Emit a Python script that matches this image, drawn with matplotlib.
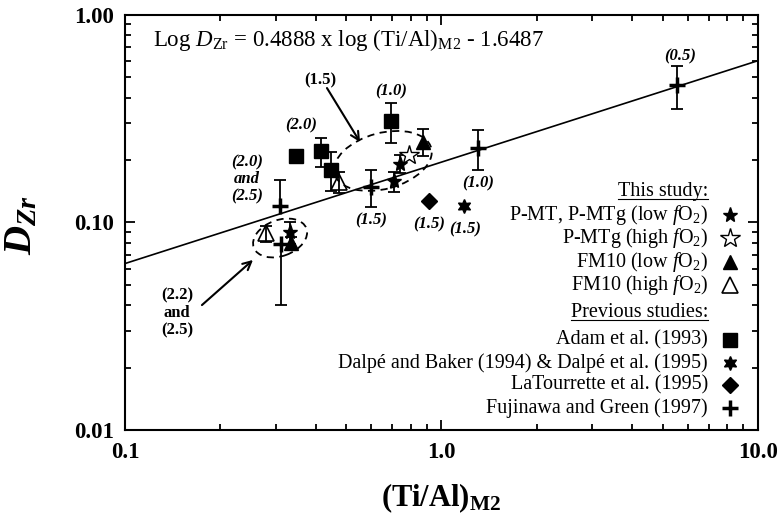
import numpy as np
import matplotlib
matplotlib.use('Agg')
import matplotlib.pyplot as plt
import matplotlib.transforms as mtransforms
from matplotlib.patches import Ellipse
from matplotlib.ticker import FixedLocator, FixedFormatter, LogLocator, NullFormatter

plt.rcParams['font.family'] = ['Liberation Serif', 'DejaVu Serif']
plt.rcParams['mathtext.fontset'] = 'custom'
plt.rcParams['mathtext.rm'] = 'Liberation Serif'
plt.rcParams['mathtext.it'] = 'Liberation Serif:italic'
plt.rcParams['mathtext.bf'] = 'Liberation Serif:bold'
plt.rcParams['mathtext.bfit'] = 'Liberation Serif:italic:bold'

# --- this study ---
pmt_x = [0.332, 0.71, 0.74]
pmt_y = [0.090, 0.158, 0.192]
pmt_err = [0.011, 0.018, 0.019]
pmtg_x = [0.788]
pmtg_y = [0.211]
fm10_low_x = [0.334, 0.876]
fm10_low_y = [0.0794, 0.245]
fm10_low_err = [0.006, 0.037]
fm10_high_x = [0.278, 0.475]
fm10_high_y = [0.0887, 0.157]
fm10_high_err = [0.008, 0.019]

# --- previous studies ---
adam_x = [0.346, 0.415, 0.448, 0.693]
adam_y = [0.209, 0.221, 0.180, 0.309]
adam_err = [0.0, 0.035, 0.038, 0.068]
dalpe_x = [1.18]
dalpe_y = [0.120]
latour_x = [0.915]
latour_y = [0.127]
fuji_x = [0.308, 0.310, 0.600, 1.30, 5.54]
fuji_y = [0.120, 0.079, 0.149, 0.228, 0.460]
fuji_err_lo = [0.0, 0.039, 0.030, 0.048, 0.109]
fuji_err_hi = [0.040, 0.0, 0.030, 0.050, 0.108]

# regression line (log10 units)
slope = 0.4888
intercept = -0.709

# pressure labels (GPa)
p_labels = ['(1.0)', '(2.0)', '(2.0)\nand\n(2.5)', '(1.5)', '(1.5)', '(1.5)', '(1.0)', '(0.5)']
p_x = [0.693, 0.359, 0.2434, 0.5975, 0.913, 1.186, 1.307, 5.67]
p_y = [0.427, 0.295, 0.1615, 0.102, 0.0983, 0.093, 0.1545, 0.63]

fig = plt.figure(figsize=(7.79, 5.19), dpi=100)
ax = fig.add_axes([0.1605, 0.1715, 0.8125, 0.7996])
ax.set_xscale('log')
ax.set_yscale('log')
ax.set_xlim(0.1, 10)
ax.set_ylim(0.01, 1)

# fit line
xs = np.logspace(-1, 1, 50)
ax.plot(xs, 10 ** (intercept + slope * np.log10(xs)), color='k', lw=1.2, zorder=2)

eb = dict(fmt='none', ecolor='k', elinewidth=1.3, capsize=4, capthick=1.3, zorder=3)
ax.errorbar(pmt_x, pmt_y, yerr=pmt_err, **eb)
ax.errorbar(fm10_low_x, fm10_low_y, yerr=fm10_low_err, **eb)
ax.errorbar(fm10_high_x, fm10_high_y, yerr=fm10_high_err, **eb)
ax.errorbar(adam_x, adam_y, yerr=adam_err, **eb)
ax.errorbar(fuji_x, fuji_y, yerr=[fuji_err_lo, fuji_err_hi], **eb)

styles = {
    'pmt': dict(marker='*', ms=11, mfc='k', mec='k', ls='none'),
    'pmtg': dict(marker='*', ms=15, mfc='white', mec='k', mew=1.0, ls='none'),
    'fm_low': dict(marker='^', ms=10, mfc='k', mec='k', ls='none'),
    'fm_high': dict(marker='^', ms=11, mfc='none', mec='k', mew=1.2, ls='none'),
    'adam': dict(marker='s', ms=10, mfc='k', mec='k', ls='none'),
    'dalpe': dict(marker=(6, 1, 0), ms=10, mfc='k', mec='k', ls='none'),
    'latour': dict(marker='D', ms=8, mfc='k', mec='k', ls='none'),
    'fuji': dict(marker='+', ms=12, mec='k', mew=2.5, ls='none'),
}
ax.plot(adam_x, adam_y, zorder=4, **styles['adam'])
ax.plot(fuji_x, fuji_y, zorder=4, **styles['fuji'])
ax.plot(dalpe_x, dalpe_y, zorder=4, **styles['dalpe'])
ax.plot(latour_x, latour_y, zorder=4, **styles['latour'])
ax.plot(fm10_high_x, fm10_high_y, zorder=4, **styles['fm_high'])
ax.plot(fm10_low_x, fm10_low_y, zorder=4, **styles['fm_low'])
ax.plot(pmtg_x, pmtg_y, zorder=5, **styles['pmtg'])
ax.plot(pmt_x, pmt_y, zorder=5, **styles['pmt'])

# pressure labels
for t, x, y in zip(p_labels, p_x, p_y):
    ax.text(x, y, t, ha='center', va='center', fontsize=12, fontweight='bold',
            fontstyle='italic', linespacing=1.1)

# dashed ellipses (sizes in inches)
def ring(xc, yc, w, h, ang):
    tr = fig.dpi_scale_trans + mtransforms.ScaledTranslation(xc, yc, ax.transData)
    ax.add_patch(Ellipse((0, 0), w, h, angle=ang, transform=tr, fill=False,
                         ls=(0, (4, 3)), lw=1.3, ec='k', zorder=3))

ring(0.653, 0.198, 1.0, 0.56, 15)
ring(0.309, 0.0842, 0.56, 0.36, 20)

arr = dict(arrowstyle='->, head_length=0.6, head_width=0.3', lw=1.5, color='k',
           shrinkA=0, shrinkB=0)
ax.annotate('', xy=(0.553, 0.244), xytext=(0.4346, 0.4447), arrowprops=arr)
ax.text(0.413, 0.486, '(1.5)', ha='center', va='center', fontsize=12, fontweight='bold')
ax.annotate('', xy=(0.2537, 0.066), xytext=(0.175, 0.040), arrowprops=arr)
ax.text(0.146, 0.0366, '(2.2)\nand\n(2.5)', ha='center', va='center', fontsize=12,
        fontweight='bold', linespacing=1.1)

ax.text(0.044, 0.94, r'Log $\mathit{D}_{\mathrm{Zr}}$ = 0.4888 x log (Ti/Al)$_{\mathrm{M2}}$ - 1.6487',
        transform=ax.transAxes, ha='left', va='center', fontsize=16.5)

# axes styling
for s in ax.spines.values():
    s.set_linewidth(1.5)
ax.tick_params(which='both', direction='in', top=True, right=True, width=1.3)
ax.tick_params(which='major', length=7)
ax.tick_params(which='minor', length=4)
ax.tick_params(axis='x', pad=9)
ax.tick_params(axis='y', pad=8)
ax.xaxis.set_major_locator(FixedLocator([0.1, 1, 10]))
ax.xaxis.set_major_formatter(FixedFormatter(['0.1', '1.0', '10.0']))
ax.yaxis.set_major_locator(FixedLocator([0.01, 0.1, 1]))
ax.yaxis.set_major_formatter(FixedFormatter(['0.01', '0.10', '1.00']))
for a in (ax.xaxis, ax.yaxis):
    a.set_minor_locator(LogLocator(base=10, subs=np.arange(2, 10)))
    a.set_minor_formatter(NullFormatter())
for lab in ax.get_xticklabels() + ax.get_yticklabels():
    lab.set_fontsize(16.5)
    lab.set_fontweight('bold')

fig.text(0.028, 0.566, r'$\mathbfit{D}_{\mathbfit{Zr}}$', rotation=90, ha='center',
         va='center', fontsize=29)
fig.text(0.566, 0.04, r'(Ti/Al)$_{\mathbf{M2}}$', ha='center', va='center',
         fontsize=22, fontweight='bold')

# legend drawn by hand
legend_rows = [
    ('This study:', None, 0.5735),
    (r'P-MT, P-MTg (low $\mathit{f}$O$_2$)', 'pmt', 0.518),
    (r'P-MTg (high $\mathit{f}$O$_2$)', 'pmtg', 0.463),
    (r'FM10 (low $\mathit{f}$O$_2$)', 'fm_low', 0.405),
    (r'FM10 (high $\mathit{f}$O$_2$)', 'fm_high', 0.349),
    ('Previous studies:', None, 0.2843),
    ('Adam et al. (1993)', 'adam', 0.2169),
    ('Dalpé and Baker (1994) & Dalpé et al. (1995)', 'dalpe', 0.1614),
    ('LaTourrette et al. (1995)', 'latour', 0.1084),
    ('Fujinawa and Green (1997)', 'fuji', 0.053),
]
headers = []
for text, key, y in legend_rows:
    t = ax.text(0.921, y, text, transform=ax.transAxes, ha='right', va='center', fontsize=14.5)
    if key is None:
        headers.append(t)
    else:
        st = dict(styles[key])
        ax.plot([0.956], [y], transform=ax.transAxes, clip_on=False, **st)

fig.canvas.draw()
r = fig.canvas.get_renderer()
inv = ax.transAxes.inverted()
for t in headers:
    bb = t.get_window_extent(r)
    (x0, y0), (x1, _) = inv.transform([(bb.x0, bb.y0 + 2), (bb.x1, bb.y0 + 2)])
    ax.plot([x0, x1], [y0, y0], transform=ax.transAxes, color='k', lw=0.8)

fig.savefig('out.png', dpi=100)
